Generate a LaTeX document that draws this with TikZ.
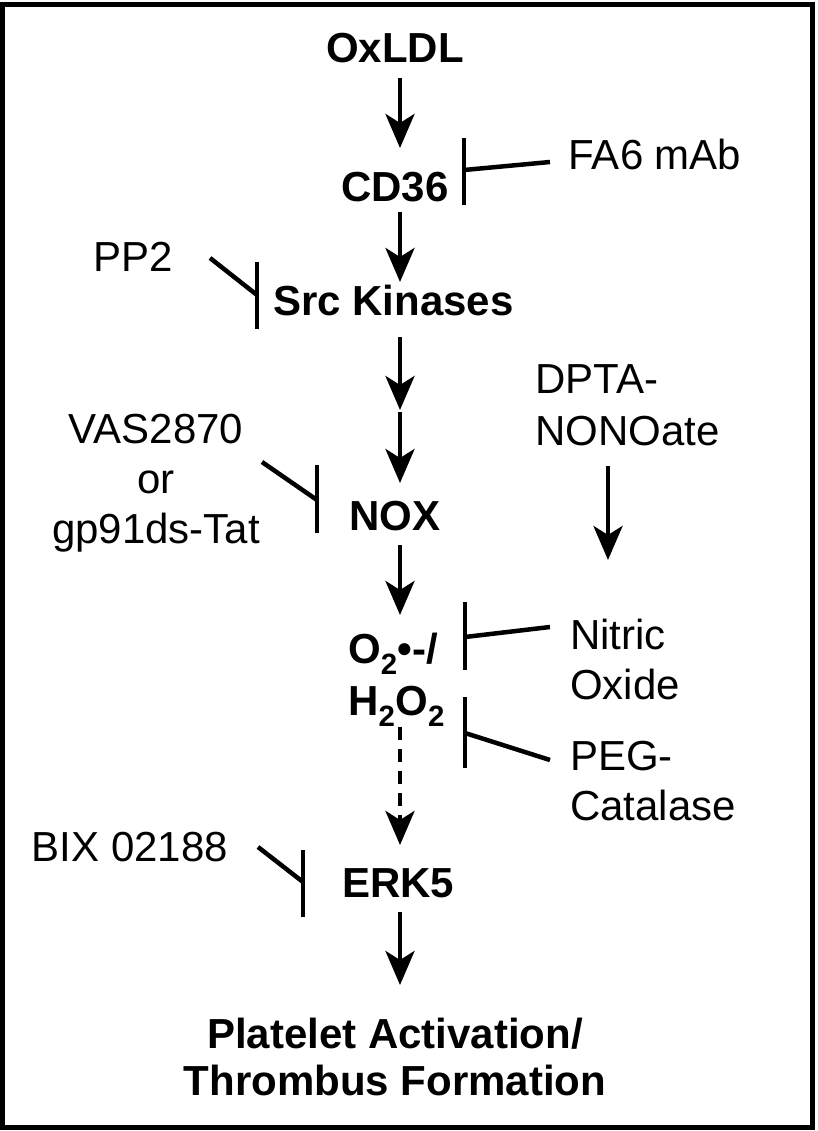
\documentclass[tikz,border=0pt]{standalone}
\usepackage{fontspec}
\setmainfont{Liberation Sans}
\usetikzlibrary{arrows.meta}
\begin{document}
\begin{tikzpicture}[x=1pt,y=-1pt,
  lab/.style={font=\fontsize{42}{50}\selectfont, inner sep=0pt, anchor=base},
  mainlab/.style={font=\fontsize{42}{47}\selectfont\bfseries, inner sep=0pt, anchor=base},
  arr/.style={line width=4.5pt, -{Stealth[length=34pt,width=29pt,inset=9pt]}},
  dasharr/.style={arr, dash pattern=on 13pt off 9pt},
  inh/.style={line width=4.5pt}]
\useasboundingbox (0,0) rectangle (817,1131);
\draw[line width=5pt] (2.5,4.5) rectangle (812.5,1127);

% main chain (multi-line nodes: base = baseline of last line)
\node[mainlab] (oxldl) at (395,63) {OxLDL};
\node[mainlab] (cd36) at (395,202) {CD36};
\node[mainlab, anchor=base west] (src) at (273,315) {Src Kinases};
\node[mainlab] (nox) at (395,530) {NOX};
\node[mainlab, anchor=base west, align=left, font=\fontsize{42}{52}\selectfont\bfseries] (ros) at (348,715) {O\textsubscript{2}•-/\\H\textsubscript{2}O\textsubscript{2}};
\node[mainlab, anchor=base west] (erk5) at (342,897) {ERK5};
\node[mainlab, align=center] (plt) at (395,1095) {Platelet Activation/\\Thrombus Formation};

% modulators
\node[lab] (fa6) at (655,170) {FA6 mAb};
\node[lab] (pp2) at (133,272) {PP2};
\node[lab, align=center] (vas) at (156,543) {VAS2870\\or\\gp91ds-Tat};
\node[lab, anchor=base west, align=left, font=\fontsize{42}{52}\selectfont] (dpta) at (535,445) {DPTA-\\NONOate};
\node[lab, anchor=base west, align=left] (no) at (570,699) {Nitric\\Oxide};
\node[lab, anchor=base west, align=left] (peg) at (570,820) {PEG-\\Catalase};
\node[lab] (bix) at (130,861) {BIX 02188};

% arrow coordinates
\coordinate (oxldl-out) at (400,78);   \coordinate (cd36-in) at (400,148);
\coordinate (cd36-out) at (400,212);   \coordinate (src-in) at (400,282);
\coordinate (src-out) at (400,337);    \coordinate (mid) at (400,410);
\coordinate (mid-out) at (400,412);    \coordinate (nox-in) at (400,483);
\coordinate (nox-out) at (400,545);    \coordinate (ros-in) at (400,615);
\coordinate (ros-out) at (400,727);    \coordinate (erk5-in) at (400,845);
\coordinate (erk5-out) at (400,912);   \coordinate (plt-in) at (400,985);
\coordinate (dpta-out) at (608,466);   \coordinate (no-in) at (608,560);

\draw[arr] (oxldl-out) -- (cd36-in);
\draw[arr] (cd36-out) -- (src-in);
\draw[arr] (src-out) -- (mid);
\draw[arr] (mid-out) -- (nox-in);
\draw[arr] (nox-out) -- (ros-in);
\draw[dasharr] (ros-out) -- (erk5-in);
\draw[arr] (erk5-out) -- (plt-in);
\draw[arr] (dpta-out) -- (no-in);

% inhibitions
\coordinate (fa6-out) at (550,162); \coordinate (cd36-bar) at (464,170);
\draw[inh] (fa6-out) -- (cd36-bar);
\draw[inh] (464,138) -- (464,205);

\coordinate (pp2-out) at (210,258); \coordinate (src-bar) at (257,295);
\draw[inh] (pp2-out) -- (src-bar);
\draw[inh] (257,262) -- (257,329);

\coordinate (vas-out) at (262,462); \coordinate (nox-bar) at (317,500);
\draw[inh] (vas-out) -- (nox-bar);
\draw[inh] (317,465) -- (317,533);

\coordinate (no-out) at (550,627); \coordinate (ros-bar1) at (465,637);
\draw[inh] (no-out) -- (ros-bar1);
\draw[inh] (465,602) -- (465,670);

\coordinate (peg-out) at (550,760); \coordinate (ros-bar2) at (465,733);
\draw[inh] (peg-out) -- (ros-bar2);
\draw[inh] (465,697) -- (465,768);

\coordinate (bix-out) at (258,847); \coordinate (erk5-bar) at (303,882);
\draw[inh] (bix-out) -- (erk5-bar);
\draw[inh] (303,850) -- (303,917);
\end{tikzpicture}
\end{document}
